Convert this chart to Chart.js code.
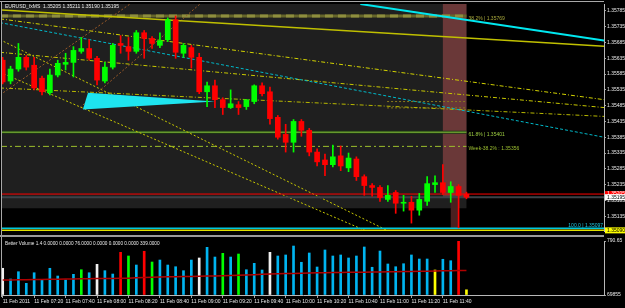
<!DOCTYPE html>
<html><head><meta charset="utf-8">
<script src="https://cdn.jsdelivr.net/npm/chart.js@4/dist/chart.umd.min.js"></script>
<style>
html,body{margin:0;padding:0;background:#000;width:625px;height:308px;overflow:hidden}
#w{position:relative;width:625px;height:308px;background:#000}
#c1{position:absolute;left:0;top:0;width:625px;height:235px}
#c2{position:absolute;left:0;top:237px;width:625px;height:71px}
.ln{position:absolute;background:#a8a8a8}
</style></head><body>
<div id="w">
<canvas id="c1" width="625" height="235"></canvas>
<canvas id="c2" width="625" height="71"></canvas>
<div class="ln" style="left:0;top:1px;width:604px;height:1px"></div>
<div class="ln" style="left:1px;top:1px;width:1px;height:296px"></div>
<div class="ln" style="left:0;top:235px;width:604px;height:2px;background:#9a9a9a"></div>
</div>
<script>
// ---------- data ----------
const symbolHeader = 'EURUSD_fxMS  1.35205 1.35211 1.35190 1.35195';
const volumeHeader = 'Better Volume 1.4 0.0000 0.0000 76.0000 0.0000 0.0000 0.0000 339.0000';

const opens = [1.35629,1.35563,1.35601,1.35638,1.35613,1.35572,1.35526,1.35582,1.35616,1.35622,
1.35657,1.35666,1.35635,1.35563,1.35607,1.35682,1.35672,1.35657,1.35716,1.35698,
1.35676,1.35694,1.35757,1.35651,1.35669,1.35638,1.35529,1.35548,1.35504,1.35479,
1.35488,1.35482,1.35498,1.35548,1.35529,1.35448,1.35394,1.35369,1.35435,1.35407,
1.35338,1.35313,1.35298,1.35326,1.35288,1.35316,1.35260,1.35232,1.35226,1.35188,
1.35210,1.35176,1.35179,1.35154,1.35182,1.35235,1.35241,1.35210,1.35229,1.35205];
const highs = [1.35638,1.35610,1.35682,1.35644,1.35638,1.35579,1.35601,1.35629,1.35651,1.35672,
1.35701,1.35694,1.35641,1.35622,1.35682,1.35707,1.35701,1.35723,1.35723,1.35704,
1.35716,1.35763,1.35769,1.35682,1.35676,1.35651,1.35560,1.35566,1.35510,1.35535,
1.35498,1.35488,1.35551,1.35557,1.35544,1.35454,1.35426,1.35441,1.35441,1.35413,
1.35348,1.35332,1.35360,1.35357,1.35335,1.35323,1.35266,1.35238,1.35232,1.35232,
1.35216,1.35201,1.35198,1.35207,1.35260,1.35263,1.35298,1.35244,1.35235,1.35211];
const lows = [1.35554,1.35554,1.35594,1.35598,1.35535,1.35519,1.35519,1.35576,1.35598,1.35576,
1.35651,1.35629,1.35551,1.35557,1.35601,1.35651,1.35629,1.35651,1.35635,1.35666,
1.35669,1.35688,1.35635,1.35638,1.35604,1.35523,1.35482,1.35479,1.35457,1.35476,
1.35457,1.35473,1.35491,1.35516,1.35426,1.35379,1.35338,1.35338,1.35388,1.35326,
1.35294,1.35263,1.35291,1.35279,1.35276,1.35248,1.35201,1.35198,1.35182,1.35182,
1.35144,1.35151,1.35113,1.35138,1.35169,1.35210,1.35204,1.35179,1.35098,1.35190];
const closes = [1.35560,1.35601,1.35638,1.35607,1.35541,1.35529,1.35582,1.35619,1.35622,1.35660,
1.35666,1.35635,1.35566,1.35607,1.35676,1.35676,1.35657,1.35716,1.35698,1.35682,
1.35691,1.35757,1.35654,1.35676,1.35638,1.35529,1.35548,1.35504,1.35479,1.35491,
1.35479,1.35504,1.35548,1.35523,1.35444,1.35385,1.35369,1.35435,1.35407,1.35338,
1.35307,1.35298,1.35323,1.35294,1.35319,1.35260,1.35232,1.35226,1.35194,1.35201,
1.35176,1.35179,1.35154,1.35188,1.35238,1.35241,1.35210,1.35229,1.35201,1.35195];

const volumes = [391,234,341,171,326,220,391,278,220,303,
370,326,449,356,307,625,571,439,640,483,
512,439,414,356,512,542,698,556,610,556,
600,370,464,366,625,571,586,717,479,615,
410,659,571,586,542,571,703,406,644,454,
414,458,586,527,527,366,523,502,790.65,76];
// Better Volume classes: N normal, W low-volume churn, G churn, R climax, Y current/low
const volumeTypes = ['W','N','N','N','N','N','N','N','N','N',
'G','N','W','N','N','R','G','N','R','G',
'N','N','N','N','N','W','N','N','G','N',
'G','N','N','N','W','N','N','N','N','N',
'N','N','N','N','N','N','N','N','N','N',
'N','N','N','N','N','Y','N','N','R','Y'];
const volumeAverage = [220,221,222,224,226,227,229,231,233,235,
237,239,240,241,242,244,247,251,256,261,
264,266,268,270,272,274,277,280,283,286,
289,293,298,303,307,310,313,316,319,322,
326,327,329,330,332,333,334,336,337,339,
341,343,345,347,349,351,354,356,358,360];

const priceTicks = [1.35135,1.35185,1.35235,1.35285,1.35335,1.35385,1.35435,1.35485,1.35535,1.35585,1.35635,1.35685,1.35735,1.35785];
const volumeTicks = [0, 790.65];
const volumeTickLabels = ['69855','790.65'];
const timeTickBars = [0,4,8,12,16,20,24,28,32,36,40,44,48,52,56];
const timeLabels = ['11 Feb 2011','11 Feb 07:20','11 Feb 07:40','11 Feb 08:00','11 Feb 08:20','11 Feb 08:40','11 Feb 09:00','11 Feb 09:20','11 Feb 09:40','11 Feb 10:00','11 Feb 10:20','11 Feb 10:40','11 Feb 11:00','11 Feb 11:20','11 Feb 11:40'];

// chart objects, anchored in (bar index, price)
const sessionBox = [-2, 59, 1.35160, 1.3595];
const zoneBox = [56, 59, 1.35194, 1.3595];
const spikeBox = [57, 58, 1.35098, 1.35194];
const cyanTrend = [45.5, 1.35807, 76.5, 1.35691];
const yellowTrend = [-0.34, 1.35788, 76.5, 1.35673];
const dotYellow1 = [-0.34, 1.35760, 76.5, 1.35504];
const dotYellow2 = [-0.34, 1.35654, 76.5, 1.35479];
const dotYellow3 = [-0.34, 1.35541, 76.5, 1.35451];
const dotCyan = [-0.34, 1.35748, 76.5, 1.35385];
const fallLine1 = [-0.34, 1.35591, 50.6, 1.35041];
const fallLine2 = [-0.34, 1.35694, 50.6, 1.35069];
const riseLine1 = [-0.34, 1.35519, 16.2, 1.35807];
const riseLine2 = [9.83, 1.35479, 25.1, 1.35807];
const triangle = [[10.2,1.35473],[10.85,1.35526],[27.0,1.35498]];
const levelPrices = [1.35769, 1.35401, 1.35356];
const levelEnd = 59;
const levelTexts = ['38.2% | 1.35769', '61.8% | 1.35401', 'Week-38.2% : 1.35356'];
const shortLevels = [1.35498, 1.35478];
const shortLevelStart = 48.9;
const redLine = 1.35205, bidLine = 1.35195, fib100 = 1.35097, yellowLine = 1.35090;
const fib100Text = '100.0 | 1.35097';
const axisMarks = [1.35205, 1.35195, 1.35090];

// ---------- styles ----------
const FONT = '"Liberation Sans", Arial, sans-serif';
const BULL = '#00ff00', BEAR = '#ff0000';
const VCOL = {N:'#00b4f0', W:'#f0f0f0', G:'#00ff00', R:'#ff0000', Y:'#ffff00'};
const xMin = -0.09, xMax = 76.5;
const idx = opens.map((_, i) => i);
const candleColors = idx.map(i => closes[i] >= opens[i] ? BULL : BEAR);

function seg(ctx, X, Y, s, color, w, dash) {
  ctx.beginPath(); ctx.strokeStyle = color; ctx.lineWidth = w; ctx.setLineDash(dash || []);
  ctx.moveTo(X(s[0]), Y(s[1])); ctx.lineTo(X(s[2]), Y(s[3])); ctx.stroke();
}
function box(ctx, X, Y, b, color) {
  const x1 = X(b[0]), x2 = X(b[1]), y1 = Y(b[2]), y2 = Y(b[3]);
  ctx.fillStyle = color;
  ctx.fillRect(Math.min(x1,x2), Math.min(y1,y2), Math.abs(x2-x1), Math.abs(y2-y1));
}

const mainOverlay = {
  id: 'mainOverlay',
  beforeDraw(chart) {
    const c = chart.ctx; c.save(); c.fillStyle = '#000'; c.fillRect(0,0,chart.width,chart.height); c.restore();
  },
  beforeDatasetsDraw(chart) {
    const {ctx, chartArea: a, scales: {x, y}} = chart;
    const X = v => x.getPixelForValue(v), Y = v => y.getPixelForValue(v);
    ctx.save();
    ctx.beginPath(); ctx.rect(a.left, a.top, a.right - a.left, a.bottom - a.top); ctx.clip();
    box(ctx, X, Y, sessionBox, '#1f1f1f');
    box(ctx, X, Y, zoneBox, '#6a3838');
    box(ctx, X, Y, spikeBox, '#4a2020');
    // horizontal levels
    seg(ctx, X, Y, [-2, levelPrices[0], levelEnd, levelPrices[0]], '#66662a', 3, []);
    seg(ctx, X, Y, [-2, levelPrices[0], levelEnd, levelPrices[0]], '#8e8e3e', 3, [8,5]);
    seg(ctx, X, Y, [-2, levelPrices[1], levelEnd, levelPrices[1]], '#1c3a12', 3, []);
    seg(ctx, X, Y, [-2, levelPrices[1], levelEnd, levelPrices[1]], '#8cc43c', 1, []);
    seg(ctx, X, Y, [-2, levelPrices[2], levelEnd, levelPrices[2]], '#9cbf2c', 1, [6,3,2,3]);
    shortLevels.forEach(p => seg(ctx, X, Y, [shortLevelStart, p, levelEnd, p], '#8a7a1c', 1, [2,2]));
    // trend lines
    seg(ctx, X, Y, dotYellow1, '#d2d200', 1, [4,2,1,2]);
    seg(ctx, X, Y, dotYellow2, '#c8c800', 1, [4,2,1,2]);
    seg(ctx, X, Y, dotYellow3, '#b8b800', 1, [4,2,1,2]);
    seg(ctx, X, Y, dotCyan, '#00b8c8', 1, [3,2]);
    seg(ctx, X, Y, fallLine1, '#c8c800', 1, [2,2]);
    seg(ctx, X, Y, fallLine2, '#c8c800', 1, [2,2]);
    seg(ctx, X, Y, riseLine1, '#9a5a28', 1, [2,2]);
    seg(ctx, X, Y, riseLine2, '#9a5a28', 1, [2,2]);
    seg(ctx, X, Y, yellowTrend, '#c0c000', 1.5, []);
    seg(ctx, X, Y, cyanTrend, '#00e8f0', 2, []);
    // triangle
    ctx.setLineDash([]);
    ctx.beginPath();
    triangle.forEach((p, i) => i ? ctx.lineTo(X(p[0]), Y(p[1])) : ctx.moveTo(X(p[0]), Y(p[1])));
    ctx.closePath(); ctx.fillStyle = '#1ee4ef'; ctx.fill();
    // full-width lines
    seg(ctx, X, Y, [xMin-1, redLine, xMax+1, redLine], '#ff0000', 1, []);
    seg(ctx, X, Y, [xMin-1, bidLine, xMax+1, bidLine], '#3c4248', 2, []);
    seg(ctx, X, Y, [xMin-1, fib100, xMax+1, fib100], '#00c8dc', 1.5, []);
    seg(ctx, X, Y, [xMin-1, yellowLine, xMax+1, yellowLine], '#e0e000', 1.5, []);
    ctx.restore();
  },
  afterDraw(chart) {
    const {ctx, chartArea: a, scales: {x, y}} = chart;
    const X = v => x.getPixelForValue(v), Y = v => y.getPixelForValue(v);
    ctx.save();
    ctx.font = '5px ' + FONT; ctx.textBaseline = 'middle'; ctx.textAlign = 'left';
    const lc = ['#a8a83c', '#9ccc40', '#9cbf30'];
    levelTexts.forEach((t, i) => { ctx.fillStyle = lc[i]; ctx.fillText(t, X(levelEnd) + 2, Y(levelPrices[i]) + 2.5); });
    ctx.fillStyle = '#20c8e0'; ctx.textAlign = 'right';
    ctx.fillText(fib100Text, a.right - 1, Y(fib100) - 2.5);
    ctx.textAlign = 'left'; ctx.fillStyle = '#e8e8e8';
    ctx.fillText(symbolHeader, 5, 7);
    // axis price boxes
    const fills = ['#ff0000', '#ffffff', '#ffff00'], txt = ['#ffffff', '#000000', '#000000'];
    axisMarks.forEach((p, i) => {
      const yy = Y(p);
      ctx.fillStyle = fills[i]; ctx.fillRect(a.right + 1, yy - 3, 20, 6);
      ctx.fillStyle = txt[i]; ctx.fillText(p.toFixed(5), a.right + 3, yy);
    });
    ctx.restore();
  }
};

const volOverlay = {
  id: 'volOverlay',
  beforeDraw(chart) {
    const c = chart.ctx; c.save(); c.fillStyle = '#000'; c.fillRect(0,0,chart.width,chart.height); c.restore();
  },
  afterDraw(chart) {
    const c = chart.ctx; c.save();
    c.font = '4.7px ' + FONT; c.fillStyle = '#e8e8e8'; c.textBaseline = 'middle';
    c.fillText(volumeHeader, 5, 6.5);
    c.restore();
  }
};

const tickFont = {family: FONT, size: 5};

new Chart(document.getElementById('c1'), {
  type: 'bar',
  data: { datasets: [
    { label: 'wick', data: idx.map(i => ({x: i, y: [lows[i], highs[i]]})), backgroundColor: candleColors,
      barThickness: 1, grouped: false, borderWidth: 0 },
    { label: 'body', data: idx.map(i => ({x: i, y: [opens[i], closes[i]]})), backgroundColor: candleColors,
      barThickness: 5, grouped: false, borderWidth: 0 }
  ]},
  options: {
    responsive: false, animation: false, devicePixelRatio: 1,
    layout: {padding: {left: 2, top: 3, bottom: 2, right: 0}},
    plugins: {legend: {display: false}, tooltip: {enabled: false}},
    scales: {
      x: {type: 'linear', min: xMin, max: xMax, display: false, offset: false, grid: {offset: false}},
      y: {position: 'right', min: 1.35088, max: 1.35807,
        afterBuildTicks: s => { s.ticks = priceTicks.map(v => ({value: v})); },
        afterFit: s => { s.width = 21; },
        ticks: {color: '#e8e8e8', font: tickFont, padding: 1, callback: v => Number(v).toFixed(5)},
        grid: {drawOnChartArea: false, drawTicks: true, tickLength: 2, color: '#a0a0a0'},
        border: {display: true, color: '#b8b8b8', width: 1}}
    }
  },
  plugins: [mainOverlay]
});

new Chart(document.getElementById('c2'), {
  type: 'bar',
  data: { datasets: [
    { type: 'line', label: 'avg', data: idx.map(i => ({x: i, y: volumeAverage[i]})), borderColor: '#b00000',
      borderWidth: 1.5, pointRadius: 0, order: 0 },
    { type: 'bar', label: 'volume', data: idx.map(i => ({x: i, y: volumes[i]})),
      backgroundColor: volumeTypes.map(t => VCOL[t]), barThickness: 2, borderWidth: 0, grouped: false, order: 1 }
  ]},
  options: {
    responsive: false, animation: false, devicePixelRatio: 1,
    layout: {padding: {left: 2, top: 4, bottom: 0, right: 0}},
    plugins: {legend: {display: false}, tooltip: {enabled: false}},
    scales: {
      x: {type: 'linear', min: xMin, max: xMax, offset: false,
        afterBuildTicks: s => { s.ticks = timeTickBars.map(v => ({value: v})); },
        afterFit: s => { s.height = 13; },
        ticks: {color: '#e8e8e8', font: tickFont, align: 'start', maxRotation: 0, minRotation: 0, autoSkip: false, padding: 1,
          callback: (v, i) => timeLabels[i]},
        grid: {drawOnChartArea: false, drawTicks: true, tickLength: 3, color: '#a0a0a0', offset: false},
        border: {display: true, color: '#b8b8b8', width: 1}},
      y: {position: 'right', min: 0, max: 790.65,
        afterBuildTicks: s => { s.ticks = volumeTicks.map(v => ({value: v})); },
        afterFit: s => { s.width = 21; },
        ticks: {color: '#e8e8e8', font: tickFont, padding: 1, callback: (v, i) => volumeTickLabels[i]},
        grid: {drawOnChartArea: false, drawTicks: true, tickLength: 2, color: '#a0a0a0'},
        border: {display: true, color: '#b8b8b8', width: 1}}
    }
  },
  plugins: [volOverlay]
});
</script>
</body></html>
